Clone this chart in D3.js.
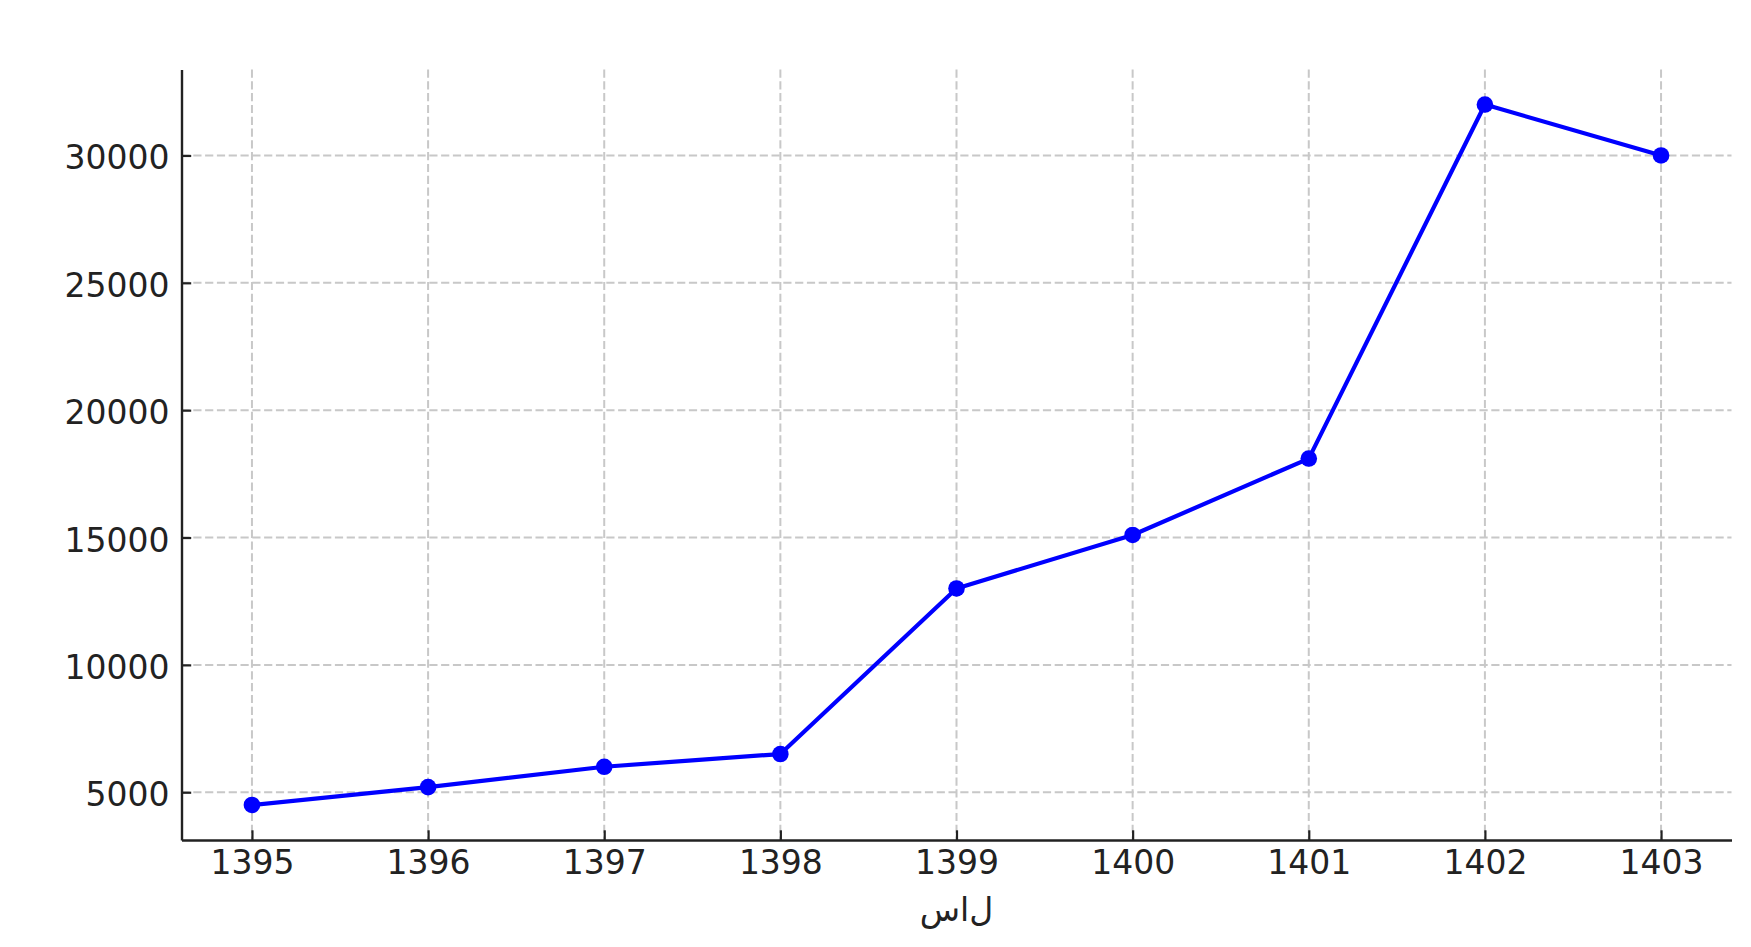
<!DOCTYPE html>
<html>
<head>
<meta charset="utf-8">
<script src="https://cdn.jsdelivr.net/npm/d3@7"></script>
<style>
  html, body { margin: 0; padding: 0; background: #ffffff; }
  svg { display: block; }
  text { font-family: "DejaVu Sans", sans-serif; fill: #222222; }
</style>
</head>
<body>
<svg id="chart" width="1751" height="947"></svg>
<script>
// ---- data ----
const years = [1395, 1396, 1397, 1398, 1399, 1400, 1401, 1402, 1403];
const values = [4500, 5200, 6000, 6500, 13000, 15100, 18100, 32000, 30000];
const yTicks = [5000, 10000, 15000, 20000, 25000, 30000];
// "سال" drawn as in the reference: isolated glyphs in logical order, left to right
const xLabel = "\u202D\uFEB1\u200C\uFE8D\u200C\uFEDD\u202C";

// ---- layout ----
const plot = { left: 181.5, right: 1731.5, top: 69.5, bottom: 840 };
const svg = d3.select("#chart");

const xPad = (d3.max(years) - d3.min(years)) * 0.05;
const x = d3.scaleLinear()
  .domain([d3.min(years) - xPad, d3.max(years) + xPad])
  .range([plot.left, plot.right]);
const yPad = (d3.max(values) - d3.min(values)) * 0.05;
const y = d3.scaleLinear()
  .domain([d3.min(values) - yPad, d3.max(values) + yPad])
  .range([plot.bottom, plot.top]);

// ---- grid ----
const grid = svg.append("g").attr("stroke", "#c8c8c8").attr("stroke-width", 2)
  .attr("stroke-dasharray", "8.2,3.6").attr("fill", "none");
grid.selectAll("line.v").data(years).join("line")
  .attr("x1", d => x(d)).attr("x2", d => x(d))
  .attr("y1", plot.top).attr("y2", plot.bottom);
grid.selectAll("line.h").data(yTicks).join("line")
  .attr("x1", plot.left).attr("x2", plot.right)
  .attr("y1", d => y(d)).attr("y2", d => y(d));

// ---- series ----
const pts = years.map((yr, i) => [yr, values[i]]);
svg.append("path")
  .datum(pts)
  .attr("fill", "none")
  .attr("stroke", "#0000ff")
  .attr("stroke-width", 4.2)
  .attr("stroke-linejoin", "round")
  .attr("stroke-linecap", "square")
  .attr("d", d3.line().x(d => x(d[0])).y(d => y(d[1])));
svg.append("g").selectAll("circle").data(pts).join("circle")
  .attr("cx", d => x(d[0])).attr("cy", d => y(d[1]))
  .attr("r", 8.3).attr("fill", "#0000ff");

// ---- axes ----
const xAxis = d3.axisBottom(x).tickValues(years).tickFormat(d3.format("d"))
  .tickSizeInner(-9.7).tickSizeOuter(0).tickPadding(10.5);
const gx = svg.append("g").attr("transform", `translate(0,${plot.bottom})`).call(xAxis);
gx.select(".domain").attr("stroke", "#222222").attr("stroke-width", 2.4);
gx.selectAll(".tick line").attr("stroke", "#222222").attr("stroke-width", 2.2);
gx.selectAll(".tick text").attr("font-size", 33).attr("fill", "#222222")
  .attr("font-family", "DejaVu Sans").attr("dy", "0.71em");

const yAxis = d3.axisLeft(y).tickValues(yTicks).tickFormat(d3.format("d"))
  .tickSizeInner(-9.7).tickSizeOuter(0).tickPadding(12);
const gy = svg.append("g").attr("transform", `translate(${plot.left},0)`).call(yAxis);
gy.select(".domain").attr("stroke", "#222222").attr("stroke-width", 2.4);
gy.selectAll(".tick line").attr("stroke", "#222222").attr("stroke-width", 2.2);
gy.selectAll(".tick text").attr("font-size", 33).attr("fill", "#222222")
  .attr("font-family", "DejaVu Sans").attr("dy", "0.41em");

// ---- x label ----
svg.append("text")
  .attr("x", (plot.left + plot.right) / 2)
  .attr("y", 921)
  .attr("text-anchor", "middle")
  .attr("font-size", 33)
  .style("unicode-bidi", "bidi-override")
  .style("direction", "ltr")
  .style("font-variant-ligatures", "none")
  .style("font-feature-settings", "'liga' 0, 'rlig' 0")
  .text(xLabel);
</script>
</body>
</html>
